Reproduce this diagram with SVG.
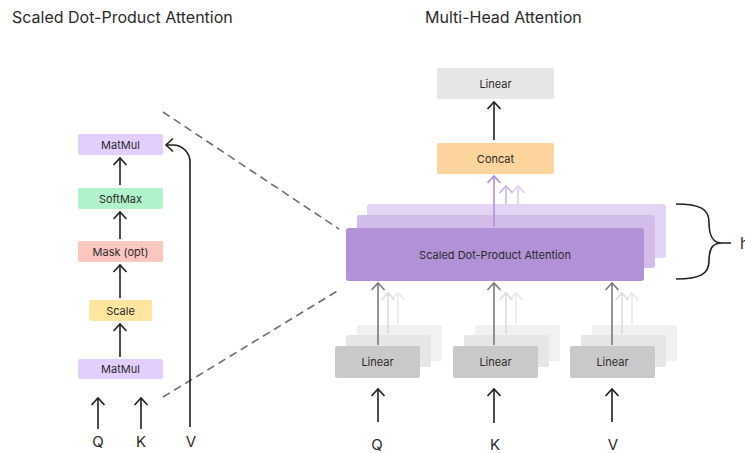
<svg xmlns="http://www.w3.org/2000/svg" width="745" height="453" viewBox="0 0 745 453">
  <style>
    text { font-family: Inter, "Noto Sans", "Liberation Sans", sans-serif; fill: #2b2b2b; }
    .title { font-size: 16px; }
    .lbl { font-size: 11px; text-anchor: middle; dominant-baseline: central; }
    .io { font-size: 15px; text-anchor: middle; }
    .a-blk { fill: none; stroke: #1f1f1f; stroke-width: 1.6; marker-end: url(#m-blk); }
    .a-gry { fill: none; stroke: #7a7a7a; stroke-width: 1.6; marker-end: url(#m-gry); }
    .a-lg1 { fill: none; stroke: #dcdcdc; stroke-width: 1.6; marker-end: url(#m-lg1); }
    .a-lg2 { fill: none; stroke: #e9e9e9; stroke-width: 1.6; marker-end: url(#m-lg2); }
    .a-p1 { fill: none; stroke: #b38fdc; stroke-width: 1.6; marker-end: url(#m-p1); }
    .a-p2 { fill: none; stroke: #cdb3ec; stroke-width: 1.6; marker-end: url(#m-p2); }
    .a-p3 { fill: none; stroke: #ddcdf3; stroke-width: 1.6; marker-end: url(#m-p3); }
    .dash { fill: none; stroke: #6e6e6e; stroke-width: 1.6; stroke-dasharray: 8 5; }
  </style>
  <defs>
    <marker id="m-blk" viewBox="-9 -9 18 18" markerWidth="18" markerHeight="18" refX="0" refY="0" orient="auto" markerUnits="userSpaceOnUse"><path d="M-7,-6.5 L0,0 L-7,6.5" fill="none" stroke="#1f1f1f" stroke-width="1.6"/></marker>
    <marker id="m-gry" viewBox="-9 -9 18 18" markerWidth="18" markerHeight="18" refX="0" refY="0" orient="auto" markerUnits="userSpaceOnUse"><path d="M-7,-6.5 L0,0 L-7,6.5" fill="none" stroke="#7a7a7a" stroke-width="1.6"/></marker>
    <marker id="m-lg1" viewBox="-9 -9 18 18" markerWidth="18" markerHeight="18" refX="0" refY="0" orient="auto" markerUnits="userSpaceOnUse"><path d="M-7,-6.5 L0,0 L-7,6.5" fill="none" stroke="#dcdcdc" stroke-width="1.6"/></marker>
    <marker id="m-lg2" viewBox="-9 -9 18 18" markerWidth="18" markerHeight="18" refX="0" refY="0" orient="auto" markerUnits="userSpaceOnUse"><path d="M-7,-6.5 L0,0 L-7,6.5" fill="none" stroke="#e9e9e9" stroke-width="1.6"/></marker>
    <marker id="m-p1" viewBox="-9 -9 18 18" markerWidth="18" markerHeight="18" refX="0" refY="0" orient="auto" markerUnits="userSpaceOnUse"><path d="M-7,-6.5 L0,0 L-7,6.5" fill="none" stroke="#b38fdc" stroke-width="1.6"/></marker>
    <marker id="m-p2" viewBox="-9 -9 18 18" markerWidth="18" markerHeight="18" refX="0" refY="0" orient="auto" markerUnits="userSpaceOnUse"><path d="M-7,-6.5 L0,0 L-7,6.5" fill="none" stroke="#cdb3ec" stroke-width="1.6"/></marker>
    <marker id="m-p3" viewBox="-9 -9 18 18" markerWidth="18" markerHeight="18" refX="0" refY="0" orient="auto" markerUnits="userSpaceOnUse"><path d="M-7,-6.5 L0,0 L-7,6.5" fill="none" stroke="#ddcdf3" stroke-width="1.6"/></marker>
  </defs>

  <!-- titles -->
  <text class="title" x="12" y="23">Scaled Dot-Product Attention</text>
  <text class="title" x="425" y="23">Multi-Head Attention</text>

  <!-- zoom guides between the two panels -->
  <g id="guides">
    <line class="dash" x1="163" y1="112" x2="339" y2="229"/>
    <line class="dash" x1="163" y1="397" x2="339" y2="290"/>
  </g>

  <!-- ===== left panel: scaled dot-product attention ===== -->
  <g id="sdpa-matmul-top">
    <rect x="78" y="134" width="85" height="21" rx="2" fill="#e4cffc"/>
    <text class="lbl" x="120.5" y="144.5">MatMul</text>
  </g>
  <g id="sdpa-softmax">
    <rect x="78" y="188" width="85" height="21" rx="2" fill="#b0f2c9"/>
    <text class="lbl" x="120.5" y="198.5">SoftMax</text>
  </g>
  <g id="sdpa-mask">
    <rect x="78" y="241" width="85" height="21" rx="2" fill="#fec6c1"/>
    <text class="lbl" x="120.5" y="251.5">Mask (opt)</text>
  </g>
  <g id="sdpa-scale">
    <rect x="89" y="300" width="63" height="21" rx="2" fill="#fee6a1"/>
    <text class="lbl" x="120.5" y="310.5">Scale</text>
  </g>
  <g id="sdpa-matmul-bottom">
    <rect x="78" y="359" width="85" height="20" rx="2" fill="#e4cffc"/>
    <text class="lbl" x="120.5" y="369">MatMul</text>
  </g>
  <g id="sdpa-inputs">
    <text class="io" x="98" y="447">Q</text>
    <text class="io" x="141" y="447">K</text>
    <text class="io" x="191" y="447">V</text>
  </g>

  <!-- ===== right panel: multi-head attention ===== -->
  <g id="mha-linear-out">
    <rect x="437" y="68" width="117" height="31" rx="2" fill="#e6e6e6"/>
    <text class="lbl" x="495.5" y="83.5">Linear</text>
  </g>
  <g id="mha-concat">
    <rect x="437" y="143" width="117" height="31" rx="2" fill="#fdd49c"/>
    <text class="lbl" x="495.5" y="158.5">Concat</text>
  </g>

  <!-- stacked heads: arrows from the heads behind -->
  <g id="head-arrows-back">
    <path class="a-p3" d="M518 204 V186"/>
    <path class="a-p2" d="M506 214 V186"/>
  </g>
  <g id="mha-sdpa">
    <rect x="367" y="204" width="299" height="54" rx="3" fill="#e3d4f4"/>
    <rect x="357" y="215" width="298" height="53" rx="3" fill="#d2bce9"/>
    <rect x="346" y="228" width="298" height="53" rx="3" fill="#b192d7"/>
    <text class="lbl" x="495" y="255">Scaled Dot-Product Attention</text>
  </g>

  <!-- per-input projections -->
  <g id="mha-linear-q">
    <rect x="357" y="325" width="85" height="36" rx="2" fill="#f1f1f1"/>
    <rect x="346" y="335" width="85" height="32" rx="2" fill="#e6e6e6"/>
    <rect x="335" y="346" width="85" height="32" rx="2" fill="#c9c9c9"/>
    <text class="lbl" x="377.5" y="362">Linear</text>
  </g>
  <g id="mha-linear-k">
    <rect x="475" y="325" width="85" height="36" rx="2" fill="#f1f1f1"/>
    <rect x="464" y="335" width="85" height="32" rx="2" fill="#e6e6e6"/>
    <rect x="453" y="346" width="85" height="32" rx="2" fill="#c9c9c9"/>
    <text class="lbl" x="495.5" y="362">Linear</text>
  </g>
  <g id="mha-linear-v">
    <rect x="592" y="325" width="85" height="36" rx="2" fill="#f1f1f1"/>
    <rect x="581" y="335" width="85" height="32" rx="2" fill="#e6e6e6"/>
    <rect x="570" y="346" width="85" height="32" rx="2" fill="#c9c9c9"/>
    <text class="lbl" x="612.5" y="362">Linear</text>
  </g>
  <g id="mha-inputs">
    <text class="io" x="377" y="450" font-size="14">Q</text>
    <text class="io" x="495" y="450" font-size="14">K</text>
    <text class="io" x="613" y="450" font-size="14">V</text>
  </g>

  <!-- heads brace -->
  <g id="heads-brace">
    <path d="M676 204 C700 204 709 209 709 222 C709 235 712 243 722 243 H731 M676 279 C700 279 709 274 709 261 C709 249 712 243 722 243" fill="none" stroke="#1f1f1f" stroke-width="1.6"/>
    <text class="title" x="740" y="249">h</text>
  </g>

  <!-- connectors -->
  <g id="connectors">
    <!-- left panel -->
    <path class="a-blk" d="M120 185 V158"/>
    <path class="a-blk" d="M120 239 V212"/>
    <path class="a-blk" d="M120 298 V265"/>
    <path class="a-blk" d="M120 357 V324"/>
    <path class="a-blk" d="M98 429 V398"/>
    <path class="a-blk" d="M141 429 V398"/>
    <path class="a-blk" d="M190 427 V162 A17 17 0 0 0 173 145 H166"/>
    <!-- right panel -->
    <path class="a-blk" d="M494 140 V102"/>
    <path class="a-p1" d="M494 227 V176"/>
    <path class="a-lg2" d="M398 324 V293"/>
    <path class="a-lg1" d="M388 334 V293"/>
    <path class="a-gry" d="M378 345 V283"/>
    <path class="a-lg2" d="M516 324 V293"/>
    <path class="a-lg1" d="M506 334 V293"/>
    <path class="a-gry" d="M494 345 V283"/>
    <path class="a-lg2" d="M632 324 V293"/>
    <path class="a-lg1" d="M622 334 V293"/>
    <path class="a-gry" d="M612 345 V283"/>
    <path class="a-blk" d="M378 422 V389"/>
    <path class="a-blk" d="M494 423 V389"/>
    <path class="a-blk" d="M612 422 V389"/>
  </g>
</svg>
